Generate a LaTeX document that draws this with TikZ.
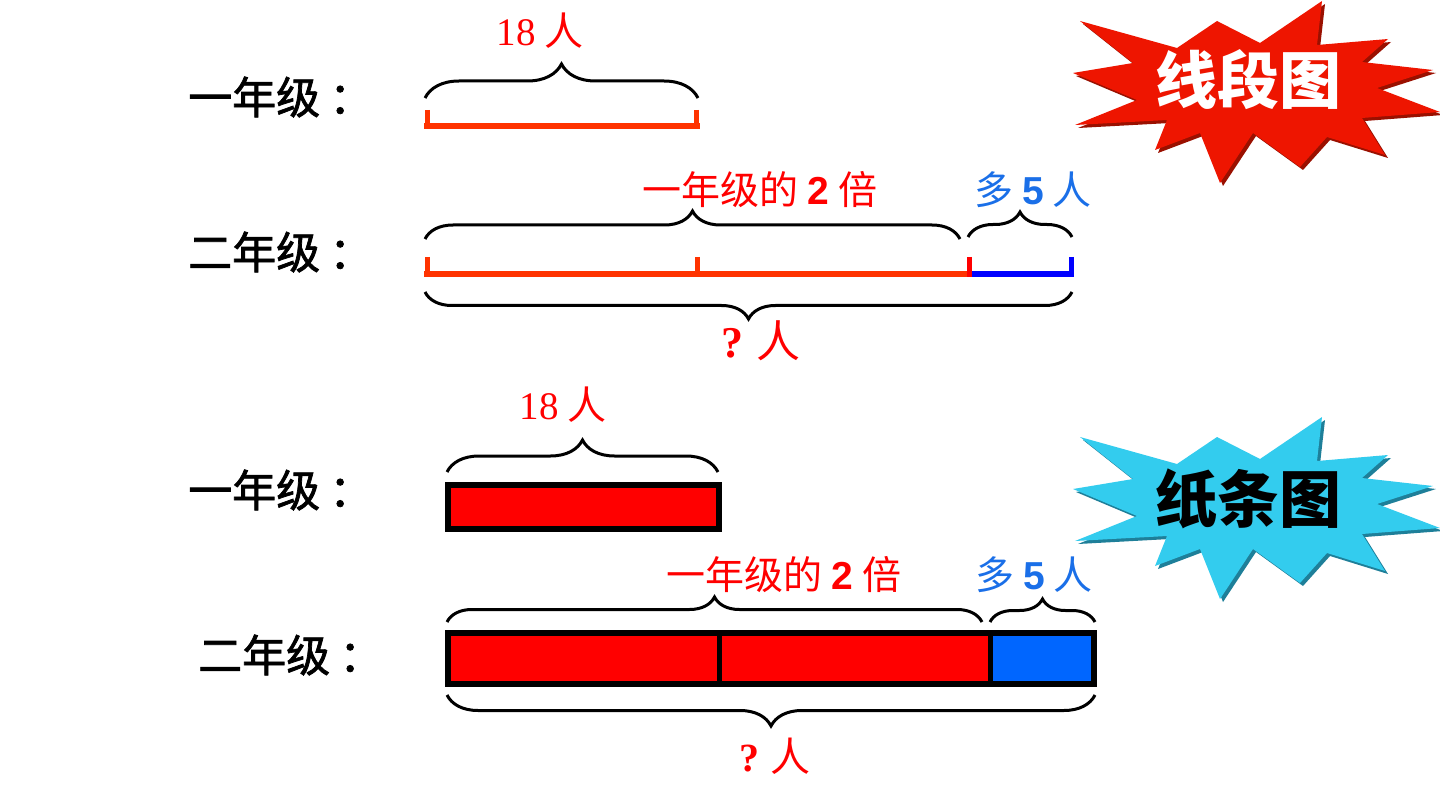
\documentclass[tikz,border=0pt]{standalone}
\usepackage{fontspec}
\usetikzlibrary{decorations.pathreplacing}
\newfontfamily\cjk{Noto Sans CJK SC}
\newfontfamily\cjkmed[FakeBold=1.6]{Noto Sans CJK SC}
\newfontfamily\serifnum{Liberation Serif}
\newfontfamily\sansnum{Liberation Sans}
\definecolor{segred}{HTML}{FF3300}
\definecolor{txtred}{HTML}{FF0000}
\definecolor{txtblue}{HTML}{1A6FE8}
\definecolor{lineblue}{HTML}{0000FF}
\definecolor{barblue}{HTML}{0066FF}
\definecolor{starred}{HTML}{EE1500}
\definecolor{starredsh}{HTML}{9A1000}
\definecolor{starcyan}{HTML}{33CCEE}
\definecolor{starcyansh}{HTML}{1E7F99}
\def\starpath{(1080,21) -- (1177,48) -- (1217,21) -- (1260,43) -- (1322,1) -- (1317,45) -- (1388,39) -- (1362,62) -- (1433,70) -- (1377,88) -- (1440,112) -- (1362,118) -- (1385,155) -- (1327,137) -- (1300,167) -- (1253,133) -- (1220,183) -- (1200,133) -- (1155,150) -- (1167,120) -- (1075,125) -- (1137,100) -- (1073,73) -- (1133,63) -- cycle}
\begin{document}
\begin{tikzpicture}[x=1pt,y=-1pt,
  brc/.style={decorate,decoration={brace,amplitude=#1},line width=3pt,draw=black},
  lbl/.style={font=\cjkmed\fontsize{44}{48}\selectfont,anchor=west,inner sep=0pt},
  redtxt/.style={font=\cjk\fontsize{39}{44}\selectfont,text=txtred,inner sep=0pt},
  bluetxt/.style={font=\cjk\fontsize{39}{44}\selectfont,text=txtblue,inner sep=0pt},
  numtxt/.style={font=\cjk\fontsize{39}{44}\selectfont,text=txtred,inner sep=0pt},
  seg/.style={line width=6pt,draw=segred},
  tick/.style={line width=5pt},
  bar/.style={line width=6pt,draw=black},
  startxt/.style={font=\cjk\bfseries\fontsize{62}{66}\selectfont,inner sep=0pt}]
\fill[white] (0,0) rectangle (1440,810);
\useasboundingbox (0,0) rectangle (1440,810);

% ---- starbursts ----
\begin{scope}[shift={(3,3)}]
  \fill[starredsh] \starpath;
\end{scope}
\fill[starred] \starpath;
\node[startxt,text=white] (t1) at (1248,80) {线段图};
\begin{scope}[shift={(3,419)}]
  \fill[starcyansh] \starpath;
\end{scope}
\begin{scope}[shift={(0,416)}]
  \fill[starcyan] \starpath;
\end{scope}
\node[startxt,text=black] (t2) at (1248,499) {纸条图};

% ---- line diagram ----
\node[lbl] (l1) at (188,97) {一年级\hspace{9pt}：};
\node[lbl] (l2) at (188,252) {二年级\hspace{9pt}：};

\draw[seg] (424,126) -- (700,126);
\draw[tick,segred] (427,110) -- (427,129);
\draw[tick,segred] (696,110) -- (696,129);
\draw[brc=34pt] (425,98) -- (698,98);
\node[numtxt] (n18a) at (540,31) {{\serifnum 18} 人};

\draw[seg] (424,274) -- (970,274);
\draw[line width=6pt,draw=lineblue] (970,274) -- (1074,274);
\draw[tick,segred] (427,257) -- (427,277);
\draw[tick,segred] (697,257) -- (697,277);
\draw[tick,txtred] (969,257) -- (969,277);
\draw[tick,lineblue] (1071,257) -- (1071,277);
\draw[brc=28pt] (425,239) -- (960,239);
\draw[brc=25pt] (968,237) -- (1072,237);
\draw[brc=27pt] (1072,292) -- (425,292);
\node[redtxt] (d1) at (760,190) {一年级的 {\sansnum\bfseries 2} 倍};
\node[bluetxt] (m1) at (1033,190) {多 {\sansnum\bfseries 5} 人};
\node[numtxt,font=\cjk\fontsize{44}{48}\selectfont] (q1) at (761,341) {{\serifnum\bfseries ?} 人};

% ---- strip diagram ----
\node[lbl] (l3) at (188,490) {一年级\hspace{9pt}：};
\node[lbl] (l4) at (198,655) {二年级\hspace{9pt}：};

\draw[bar,fill=red] (448,485) rectangle (719,529);
\draw[brc=32pt] (447,472) -- (718,472);
\node[numtxt] (n18b) at (563,405) {{\serifnum 18} 人};

\fill[red] (448,633) rectangle (990,684);
\fill[barblue] (990,633) rectangle (1094,684);
\draw[bar] (448,633) rectangle (1094,684);
\draw[line width=5pt] (719,633) -- (719,684);
\draw[line width=5pt] (990,633) -- (990,684);
\draw[brc=25pt] (447,622) -- (982,622);
\draw[brc=23pt] (990,622) -- (1095,622);
\draw[brc=31pt] (1095,695) -- (447,695);
\node[redtxt] (d2) at (784,575) {一年级的 {\sansnum\bfseries 2} 倍};
\node[bluetxt] (m2) at (1034,575) {多 {\sansnum\bfseries 5} 人};
\node[numtxt,font=\cjk\fontsize{40}{44}\selectfont] (q2) at (775,756) {{\serifnum\bfseries ?} 人};
\end{tikzpicture}
\end{document}
